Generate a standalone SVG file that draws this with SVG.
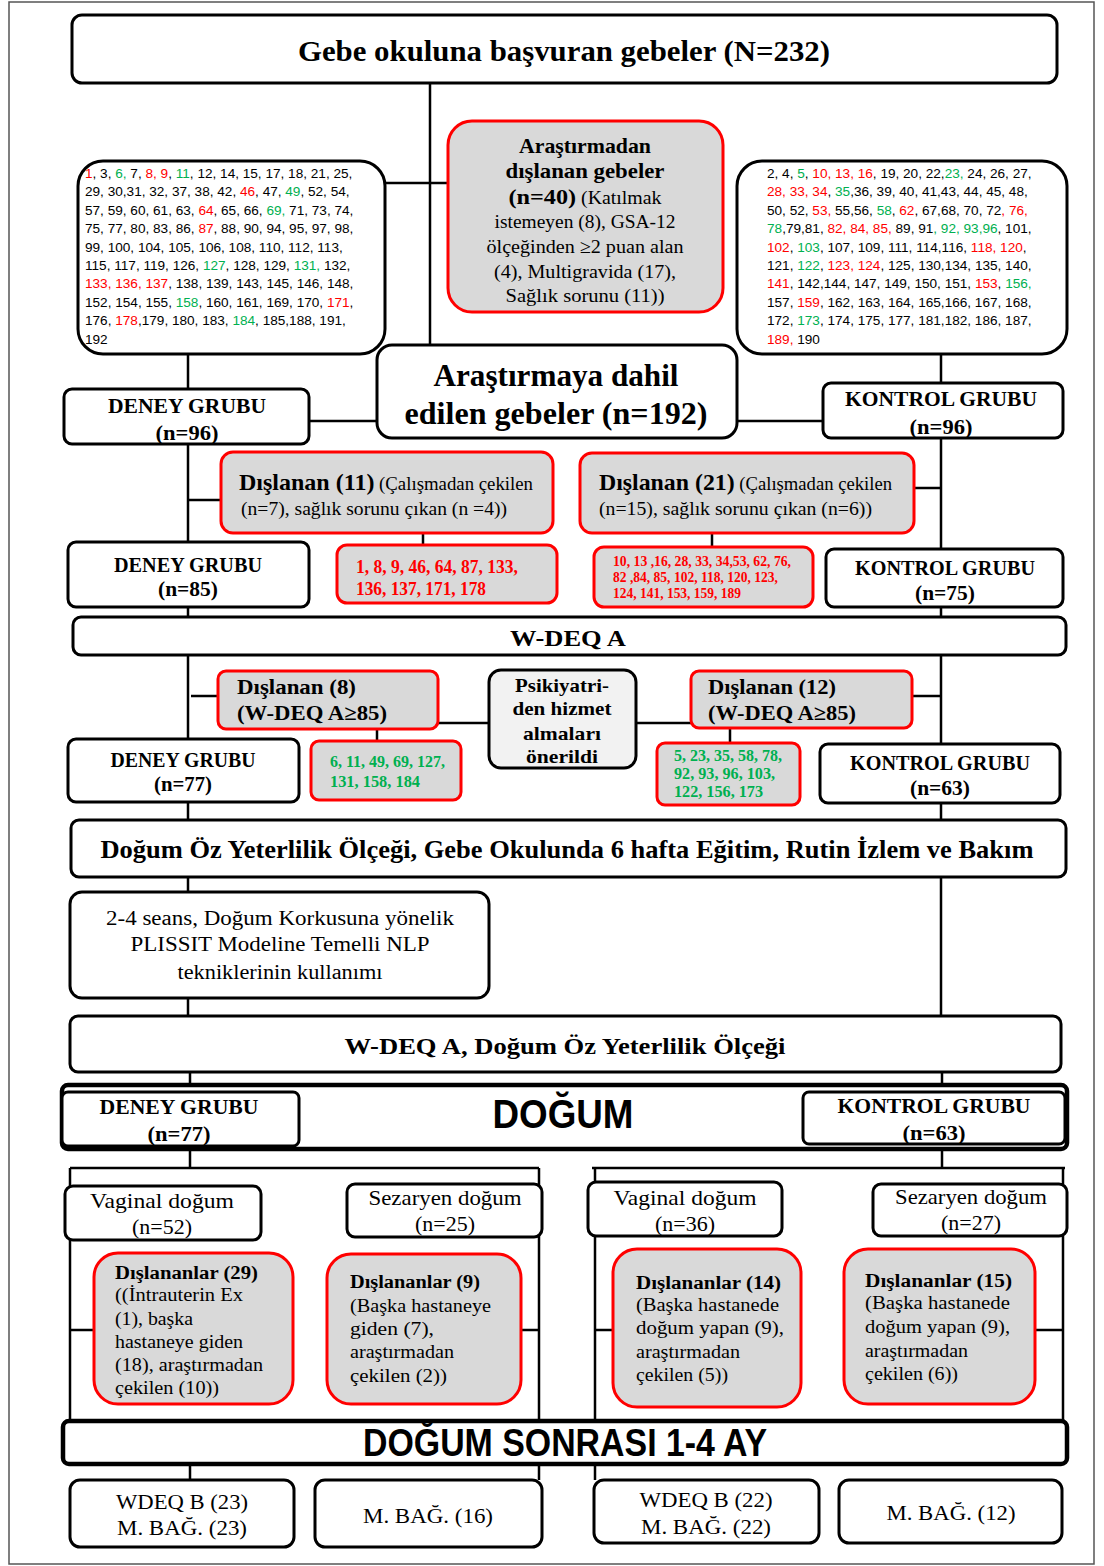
<svg xmlns="http://www.w3.org/2000/svg" width="1104" height="1566" viewBox="0 0 1104 1566">
<style>
.bx{fill:#fff;stroke:#000;stroke-width:3}
.bt{fill:#fff;stroke:#000;stroke-width:4.5}
.ex{fill:#d9d9d9;stroke:#ff0000;stroke-width:3}
.ps{fill:#f2f2f2;stroke:#000;stroke-width:3}
.ln{stroke:#000;stroke-width:2.5;fill:none}
text{fill:#000}
.sb{font-family:"Liberation Serif","Times New Roman",serif;font-weight:bold}
.sr{font-family:"Liberation Serif","Times New Roman",serif}
.ss{font-family:"Liberation Sans",Arial,sans-serif;font-weight:bold}
.num{font-family:"Liberation Sans",Arial,sans-serif;font-size:13.6px}
.rd{fill:#ff0000}
.gr{fill:#00b050}
.c{text-anchor:middle}
</style>
<rect x="0" y="0" width="1104" height="1566" fill="#fff"/>
<rect x="9" y="2" width="1085" height="1562" fill="none" stroke="#555" stroke-width="1.5"/>

<g id="connectors">
<path class="ln" d="M430 83V345 M385 183H448 M188 355V389 M941 355V383 M309 421H377 M737 421H823"/>
<path class="ln" d="M188 444V542 M941 438V549 M188 500H221 M914 488H941 M423 533V545 M712 533V547"/>
<path class="ln" d="M188 607V617 M941 607V617 M188 655V739 M941 655V744 M191 696H218 M912 696H941 M438 723H489 M636 723H691 M377 729V741 M730 728V743"/>
<path class="ln" d="M188 802V820 M941 803V820 M188 877V892 M941 877V1016 M188 998V1016 M190 1072V1085 M942 1072V1085"/>
<path class="ln" d="M190 1149V1168 M70 1168H539 M70 1168V1421 M539 1168V1421 M942 1149V1168 M592 1168H1065 M595 1168V1421 M1063 1168V1421"/>
<path class="ln" d="M70 1330H94 M521 1330H539 M595 1330H613 M1035 1330H1063"/>
<path class="ln" d="M190 1464V1480 M539 1464V1480 M595 1464V1480"/>
</g>

<g id="n-title">
<rect class="bx" x="72" y="15" width="985" height="68" rx="10"/>
<text class="sb c" x="564" y="61" font-size="30" textLength="532" lengthAdjust="spacingAndGlyphs">Gebe okuluna başvuran gebeler (N=232)</text>
</g>

<g id="n-left-list">
<rect class="bx" x="78" y="161" width="307" height="193" rx="25" stroke-width="4.5"/>
<text class="num" x="85" y="178"><tspan class="rd">1</tspan>, 3, <tspan class="gr">6,</tspan> 7, <tspan class="rd">8, 9</tspan>, <tspan class="gr">11</tspan>, 12, 14, 15, 17, 18, 21, 25,</text>
<text class="num" x="85" y="196.4">29, 30,31, 32, 37, 38, 42, <tspan class="rd">46</tspan>, 47, <tspan class="gr">49</tspan>, 52, 54,</text>
<text class="num" x="85" y="214.8">57, 59, 60, 61, 63, <tspan class="rd">64</tspan>, 65, 66, <tspan class="gr">69,</tspan> 71, 73, 74,</text>
<text class="num" x="85" y="233.2">75, 77, 80, 83, 86, <tspan class="rd">87</tspan>, 88, 90, 94, 95, 97, 98,</text>
<text class="num" x="85" y="251.6">99, 100, 104, 105, 106, 108, 110, 112, 113,</text>
<text class="num" x="85" y="270">115, 117, 119, 126, <tspan class="gr">127</tspan>, 128, 129, <tspan class="gr">131,</tspan> 132,</text>
<text class="num" x="85" y="288.4"><tspan class="rd">133, 136, 137</tspan>, 138, 139, 143, 145, 146, 148,</text>
<text class="num" x="85" y="306.8">152, 154, 155, <tspan class="gr">158</tspan>, 160, 161, 169, 170, <tspan class="rd">171</tspan>,</text>
<text class="num" x="85" y="325.2">176, <tspan class="rd">178</tspan>,179, 180, 183, <tspan class="gr">184</tspan>, 185,188, 191,</text>
<text class="num" x="85" y="343.6">192</text>
</g>

<g id="n-right-list">
<rect class="bx" x="737" y="161" width="330" height="193" rx="25" stroke-width="4.5"/>
<text class="num" x="767" y="178">2, 4, <tspan class="gr">5</tspan>, <tspan class="rd">10, 13, 16</tspan>, 19, 20, 22,<tspan class="gr">23,</tspan> 24, 26, 27,</text>
<text class="num" x="767" y="196.4"><tspan class="rd">28, 33, 34</tspan>, <tspan class="gr">35</tspan>,36, 39, 40, 41,43, 44, 45, 48,</text>
<text class="num" x="767" y="214.8">50, 52, <tspan class="rd">53,</tspan> 55,56, <tspan class="gr">58</tspan>, <tspan class="rd">62</tspan>, 67,68, 70, 72<tspan class="rd">, 76,</tspan></text>
<text class="num" x="767" y="233.2"><tspan class="gr">78</tspan>,79,81, <tspan class="rd">82, 84, 85,</tspan> 89, 91<tspan class="gr">, 92, 93,96</tspan>, 101,</text>
<text class="num" x="767" y="251.6"><tspan class="rd">102</tspan>, <tspan class="gr">103</tspan>, 107, 109, 111, 114,116, <tspan class="rd">118, 120</tspan>,</text>
<text class="num" x="767" y="270">121, <tspan class="gr">122</tspan>, <tspan class="rd">123, 124</tspan>, 125, 130,134, 135, 140,</text>
<text class="num" x="767" y="288.4"><tspan class="rd">141</tspan>, 142,144, 147, 149, 150, 151, <tspan class="rd">153</tspan>, <tspan class="gr">156,</tspan></text>
<text class="num" x="767" y="306.8">157, <tspan class="rd">159</tspan>, 162, 163, 164, 165,166, 167, 168,</text>
<text class="num" x="767" y="325.2">172, <tspan class="gr">173</tspan>, 174, 175, 177, 181,182, 186, 187,</text>
<text class="num" x="767" y="343.6"><tspan class="rd">189,</tspan> 190</text>
</g>

<g id="n-excluded-40">
<rect class="ex" x="448" y="121" width="275" height="191" rx="24"/>
<text class="sb c" x="585" y="153" font-size="22" textLength="132" lengthAdjust="spacingAndGlyphs">Araştırmadan</text>
<text class="sb c" x="585" y="178" font-size="22" textLength="159" lengthAdjust="spacingAndGlyphs">dışlanan  gebeler</text>
<text class="sr c" x="585" y="204" font-size="18" textLength="153" lengthAdjust="spacingAndGlyphs"><tspan class="sb" font-size="22">(n=40)</tspan> (Katılmak</text>
<text class="sr c" x="585" y="228" font-size="19" textLength="181" lengthAdjust="spacingAndGlyphs">istemeyen (8), GSA-12</text>
<text class="sr c" x="585" y="253" font-size="19" textLength="197" lengthAdjust="spacingAndGlyphs">ölçeğinden ≥2 puan alan</text>
<text class="sr c" x="585" y="278" font-size="19" textLength="182" lengthAdjust="spacingAndGlyphs">(4), Multigravida (17),</text>
<text class="sr c" x="585" y="302" font-size="19" textLength="159" lengthAdjust="spacingAndGlyphs">Sağlık  sorunu (11))</text>
</g>

<g id="n-included">
<rect class="bx" x="377" y="345" width="360" height="93" rx="15"/>
<text class="sb c" x="556" y="386" font-size="31" textLength="245" lengthAdjust="spacingAndGlyphs">Araştırmaya dahil</text>
<text class="sb c" x="556" y="424" font-size="31" textLength="303" lengthAdjust="spacingAndGlyphs">edilen gebeler  (n=192)</text>
</g>

<g id="n-deney-96">
<rect class="bx" x="64" y="389" width="245" height="55" rx="8"/>
<text class="sb c" x="187" y="413" font-size="22" textLength="158" lengthAdjust="spacingAndGlyphs">DENEY  GRUBU</text>
<text class="sb c" x="187" y="440" font-size="22" textLength="63" lengthAdjust="spacingAndGlyphs">(n=96)</text>
</g>

<g id="n-kontrol-96">
<rect class="bx" x="823" y="383" width="240" height="55" rx="8"/>
<text class="sb c" x="941" y="406" font-size="22" textLength="192" lengthAdjust="spacingAndGlyphs">KONTROL GRUBU</text>
<text class="sb c" x="941" y="434" font-size="22" textLength="63" lengthAdjust="spacingAndGlyphs">(n=96)</text>
</g>

<g id="n-excl-11">
<rect class="ex" x="221" y="452" width="332" height="81" rx="12"/>
<text class="sr" x="239" y="490" font-size="18" textLength="294" lengthAdjust="spacingAndGlyphs"><tspan class="sb" font-size="23">Dışlanan (11)</tspan> (Çalışmadan çekilen</text>
<text class="sr" x="241" y="515" font-size="18" textLength="266" lengthAdjust="spacingAndGlyphs">(n=7), sağlık sorunu çıkan (n =4))</text>
</g>

<g id="n-excl-21">
<rect class="ex" x="580" y="453" width="334" height="80" rx="12"/>
<text class="sr" x="599" y="490" font-size="18" textLength="293" lengthAdjust="spacingAndGlyphs"><tspan class="sb" font-size="23">Dışlanan (21)</tspan> (Çalışmadan çekilen</text>
<text class="sr" x="599" y="515" font-size="18" textLength="273" lengthAdjust="spacingAndGlyphs">(n=15), sağlık sorunu çıkan (n=6))</text>
</g>

<g id="n-deney-85">
<rect class="bx" x="68" y="542" width="241" height="65" rx="8"/>
<text class="sb c" x="188" y="572" font-size="21" textLength="148" lengthAdjust="spacingAndGlyphs">DENEY  GRUBU</text>
<text class="sb c" x="188" y="596" font-size="21" textLength="60" lengthAdjust="spacingAndGlyphs">(n=85)</text>
</g>

<g id="n-red-list-1">
<rect class="ex" x="337" y="545" width="220" height="58" rx="10"/>
<text class="sb rd" x="356" y="573" font-size="18" textLength="162" lengthAdjust="spacingAndGlyphs">1, 8, 9, 46, 64, 87, 133,</text>
<text class="sb rd" x="356" y="595" font-size="18" textLength="130" lengthAdjust="spacingAndGlyphs">136, 137, 171, 178</text>
</g>

<g id="n-red-list-2">
<rect class="ex" x="594" y="547" width="219" height="60" rx="10"/>
<text class="sb rd" x="613" y="566" font-size="15" textLength="178" lengthAdjust="spacingAndGlyphs">10, 13 ,16, 28, 33, 34,53, 62, 76,</text>
<text class="sb rd" x="613" y="582" font-size="15" textLength="165" lengthAdjust="spacingAndGlyphs">82 ,84, 85, 102, 118, 120, 123,</text>
<text class="sb rd" x="613" y="598" font-size="15" textLength="128" lengthAdjust="spacingAndGlyphs">124, 141, 153, 159, 189</text>
</g>

<g id="n-kontrol-75">
<rect class="bx" x="826" y="549" width="237" height="58" rx="8"/>
<text class="sb c" x="945" y="575" font-size="21" textLength="180" lengthAdjust="spacingAndGlyphs">KONTROL GRUBU</text>
<text class="sb c" x="945" y="600" font-size="21" textLength="60" lengthAdjust="spacingAndGlyphs">(n=75)</text>
</g>

<g id="n-wdeq-a">
<rect class="bx" x="73" y="617" width="993" height="38" rx="8"/>
<text class="sb c" x="568" y="646" font-size="24" textLength="116" lengthAdjust="spacingAndGlyphs">W-DEQ A</text>
</g>

<g id="n-excl-8">
<rect class="ex" x="218" y="671" width="220" height="58" rx="8"/>
<text class="sb" x="237" y="694" font-size="21" textLength="119" lengthAdjust="spacingAndGlyphs">Dışlanan (8)</text>
<text class="sb" x="237" y="720" font-size="21" textLength="150" lengthAdjust="spacingAndGlyphs">(W-DEQ A≥85)</text>
</g>

<g id="n-psikiyatri">
<rect class="ps" x="489" y="670" width="147" height="98" rx="12"/>
<text class="sb c" x="562" y="692" font-size="19" textLength="94" lengthAdjust="spacingAndGlyphs">Psikiyatri-</text>
<text class="sb c" x="562" y="715" font-size="19" textLength="99" lengthAdjust="spacingAndGlyphs">den hizmet</text>
<text class="sb c" x="562" y="740" font-size="19" textLength="78" lengthAdjust="spacingAndGlyphs">almaları</text>
<text class="sb c" x="562" y="763" font-size="19" textLength="72" lengthAdjust="spacingAndGlyphs">önerildi</text>
</g>

<g id="n-excl-12">
<rect class="ex" x="691" y="671" width="221" height="57" rx="8"/>
<text class="sb" x="708" y="694" font-size="21" textLength="128" lengthAdjust="spacingAndGlyphs">Dışlanan (12)</text>
<text class="sb" x="708" y="720" font-size="21" textLength="148" lengthAdjust="spacingAndGlyphs">(W-DEQ A≥85)</text>
</g>

<g id="n-deney-77">
<rect class="bx" x="68" y="739" width="231" height="63" rx="8"/>
<text class="sb c" x="183" y="767" font-size="21" textLength="145" lengthAdjust="spacingAndGlyphs">DENEY  GRUBU</text>
<text class="sb c" x="183" y="791" font-size="21" textLength="58" lengthAdjust="spacingAndGlyphs">(n=77)</text>
</g>

<g id="n-green-list-1">
<rect class="ex" x="311" y="741" width="150" height="59" rx="8"/>
<text class="sb gr" x="330" y="767" font-size="17" textLength="115" lengthAdjust="spacingAndGlyphs">6, 11, 49, 69, 127,</text>
<text class="sb gr" x="330" y="787" font-size="17" textLength="90" lengthAdjust="spacingAndGlyphs">131, 158, 184</text>
</g>

<g id="n-green-list-2">
<rect class="ex" x="657" y="743" width="143" height="62" rx="8"/>
<text class="sb gr" x="674" y="761" font-size="16" textLength="108" lengthAdjust="spacingAndGlyphs">5, 23, 35, 58, 78,</text>
<text class="sb gr" x="674" y="779" font-size="16" textLength="101" lengthAdjust="spacingAndGlyphs">92, 93, 96, 103,</text>
<text class="sb gr" x="674" y="797" font-size="16" textLength="89" lengthAdjust="spacingAndGlyphs">122, 156, 173</text>
</g>

<g id="n-kontrol-63">
<rect class="bx" x="820" y="744" width="240" height="59" rx="8"/>
<text class="sb c" x="940" y="770" font-size="21" textLength="180" lengthAdjust="spacingAndGlyphs">KONTROL GRUBU</text>
<text class="sb c" x="940" y="795" font-size="21" textLength="60" lengthAdjust="spacingAndGlyphs">(n=63)</text>
</g>

<g id="n-dogum-oz">
<rect class="bx" x="71" y="820" width="995" height="57" rx="8"/>
<text class="sb c" x="567" y="858" font-size="25" textLength="933" lengthAdjust="spacingAndGlyphs">Doğum Öz Yeterlilik Ölçeği, Gebe Okulunda 6 hafta  Eğitim, Rutin İzlem ve Bakım</text>
</g>

<g id="n-nlp">
<rect class="bx" x="70" y="892" width="419" height="106" rx="12"/>
<text class="sr c" x="280" y="925" font-size="20" textLength="348" lengthAdjust="spacingAndGlyphs">2-4  seans, Doğum Korkusuna yönelik</text>
<text class="sr c" x="280" y="951" font-size="20" textLength="299" lengthAdjust="spacingAndGlyphs">PLISSIT  Modeline Temelli  NLP</text>
<text class="sr c" x="280" y="979" font-size="20" textLength="205" lengthAdjust="spacingAndGlyphs">tekniklerinin kullanımı</text>
</g>

<g id="n-wdeq-a-oz">
<rect class="bx" x="70" y="1016" width="991" height="56" rx="8"/>
<text class="sb c" x="565" y="1054" font-size="24" textLength="441" lengthAdjust="spacingAndGlyphs">W-DEQ A, Doğum Öz Yeterlilik Ölçeği</text>
</g>

<g id="n-dogum">
<rect class="bt" x="62" y="1085" width="1005" height="64" rx="6"/>
<text class="ss c" x="563" y="1128" font-size="40" textLength="141" lengthAdjust="spacingAndGlyphs">DOĞUM</text>
</g>

<g id="n-deney-77b">
<rect class="bx" x="62" y="1092" width="237" height="54" rx="6"/>
<text class="sb c" x="179" y="1114" font-size="21" textLength="159" lengthAdjust="spacingAndGlyphs">DENEY  GRUBU</text>
<text class="sb c" x="179" y="1141" font-size="21" textLength="63" lengthAdjust="spacingAndGlyphs">(n=77)</text>
</g>

<g id="n-kontrol-63b">
<rect class="bx" x="803" y="1092" width="262" height="52" rx="6"/>
<text class="sb c" x="934" y="1113" font-size="21" textLength="193" lengthAdjust="spacingAndGlyphs">KONTROL GRUBU</text>
<text class="sb c" x="934" y="1140" font-size="21" textLength="63" lengthAdjust="spacingAndGlyphs">(n=63)</text>
</g>

<g id="n-vag-52">
<rect class="bx" x="65" y="1186" width="196" height="54" rx="8"/>
<text class="sr c" x="162" y="1208" font-size="21" textLength="144" lengthAdjust="spacingAndGlyphs">Vaginal  doğum</text>
<text class="sr c" x="162" y="1234" font-size="21" textLength="60" lengthAdjust="spacingAndGlyphs">(n=52)</text>
</g>

<g id="n-sez-25">
<rect class="bx" x="347" y="1184" width="195" height="53" rx="8"/>
<text class="sr c" x="445" y="1205" font-size="21" textLength="153" lengthAdjust="spacingAndGlyphs">Sezaryen doğum</text>
<text class="sr c" x="445" y="1231" font-size="21" textLength="60" lengthAdjust="spacingAndGlyphs">(n=25)</text>
</g>

<g id="n-vag-36">
<rect class="bx" x="588" y="1182" width="194" height="54" rx="8"/>
<text class="sr c" x="685" y="1205" font-size="21" textLength="143" lengthAdjust="spacingAndGlyphs">Vaginal  doğum</text>
<text class="sr c" x="685" y="1231" font-size="21" textLength="60" lengthAdjust="spacingAndGlyphs">(n=36)</text>
</g>

<g id="n-sez-27">
<rect class="bx" x="873" y="1184" width="194" height="52" rx="8"/>
<text class="sr c" x="971" y="1204" font-size="21" textLength="152" lengthAdjust="spacingAndGlyphs">Sezaryen doğum</text>
<text class="sr c" x="971" y="1230" font-size="21" textLength="60" lengthAdjust="spacingAndGlyphs">(n=27)</text>
</g>

<g id="n-excl-29">
<rect class="ex" x="94" y="1253" width="199" height="151" rx="24"/>
<text class="sb" x="115" y="1279" font-size="18" textLength="143" lengthAdjust="spacingAndGlyphs">Dışlananlar (29)</text>
<text class="sr" x="115" y="1301" font-size="18" textLength="128" lengthAdjust="spacingAndGlyphs">((İntrauterin Ex</text>
<text class="sr" x="115" y="1325" font-size="18" textLength="78" lengthAdjust="spacingAndGlyphs">(1), başka</text>
<text class="sr" x="115" y="1348" font-size="18" textLength="128" lengthAdjust="spacingAndGlyphs">hastaneye giden</text>
<text class="sr" x="115" y="1371" font-size="18" textLength="148" lengthAdjust="spacingAndGlyphs">(18), araştırmadan</text>
<text class="sr" x="115" y="1394" font-size="18" textLength="104" lengthAdjust="spacingAndGlyphs">çekilen (10))</text>
</g>

<g id="n-excl-9">
<rect class="ex" x="327" y="1254" width="194" height="150" rx="24"/>
<text class="sb" x="350" y="1288" font-size="18" textLength="130" lengthAdjust="spacingAndGlyphs">Dışlananlar (9)</text>
<text class="sr" x="350" y="1312" font-size="18" textLength="141" lengthAdjust="spacingAndGlyphs">(Başka hastaneye</text>
<text class="sr" x="350" y="1335" font-size="18" textLength="84" lengthAdjust="spacingAndGlyphs">giden  (7),</text>
<text class="sr" x="350" y="1358" font-size="18" textLength="104" lengthAdjust="spacingAndGlyphs">araştırmadan</text>
<text class="sr" x="350" y="1382" font-size="18" textLength="97" lengthAdjust="spacingAndGlyphs">çekilen (2))</text>
</g>

<g id="n-excl-14">
<rect class="ex" x="613" y="1249" width="188" height="158" rx="24"/>
<text class="sb" x="636" y="1289" font-size="18" textLength="145" lengthAdjust="spacingAndGlyphs">Dışlananlar  (14)</text>
<text class="sr" x="636" y="1311" font-size="18" textLength="143" lengthAdjust="spacingAndGlyphs">(Başka  hastanede</text>
<text class="sr" x="636" y="1334" font-size="18" textLength="148" lengthAdjust="spacingAndGlyphs">doğum  yapan  (9),</text>
<text class="sr" x="636" y="1358" font-size="18" textLength="104" lengthAdjust="spacingAndGlyphs">araştırmadan</text>
<text class="sr" x="636" y="1381" font-size="18" textLength="92" lengthAdjust="spacingAndGlyphs">çekilen (5))</text>
</g>

<g id="n-excl-15">
<rect class="ex" x="844" y="1249" width="191" height="155" rx="24"/>
<text class="sb" x="865" y="1287" font-size="18" textLength="147" lengthAdjust="spacingAndGlyphs">Dışlananlar  (15)</text>
<text class="sr" x="865" y="1309" font-size="18" textLength="145" lengthAdjust="spacingAndGlyphs">(Başka  hastanede</text>
<text class="sr" x="865" y="1333" font-size="18" textLength="145" lengthAdjust="spacingAndGlyphs">doğum  yapan  (9),</text>
<text class="sr" x="865" y="1357" font-size="18" textLength="103" lengthAdjust="spacingAndGlyphs">araştırmadan</text>
<text class="sr" x="865" y="1380" font-size="18" textLength="93" lengthAdjust="spacingAndGlyphs">çekilen (6))</text>
</g>

<g id="n-dogum-sonrasi">
<rect class="bt" x="63" y="1421" width="1004" height="43" rx="6"/>
<text class="ss c" x="565" y="1456" font-size="38" textLength="404" lengthAdjust="spacingAndGlyphs">DOĞUM SONRASI 1-4 AY</text>
</g>

<g id="n-out-1">
<rect class="bx" x="70" y="1480" width="224" height="67" rx="10"/>
<text class="sr c" x="182" y="1509" font-size="21" textLength="132" lengthAdjust="spacingAndGlyphs">WDEQ B (23)</text>
<text class="sr c" x="182" y="1535" font-size="21" textLength="130" lengthAdjust="spacingAndGlyphs">M. BAĞ.  (23)</text>
</g>

<g id="n-out-2">
<rect class="bx" x="315" y="1480" width="227" height="67" rx="10"/>
<text class="sr c" x="428" y="1523" font-size="21" textLength="130" lengthAdjust="spacingAndGlyphs">M. BAĞ.  (16)</text>
</g>

<g id="n-out-3">
<rect class="bx" x="594" y="1480" width="225" height="63" rx="10"/>
<text class="sr c" x="706" y="1507" font-size="21" textLength="133" lengthAdjust="spacingAndGlyphs">WDEQ B (22)</text>
<text class="sr c" x="706" y="1534" font-size="21" textLength="130" lengthAdjust="spacingAndGlyphs">M. BAĞ.  (22)</text>
</g>

<g id="n-out-4">
<rect class="bx" x="839" y="1480" width="223" height="63" rx="10"/>
<text class="sr c" x="951" y="1520" font-size="21" textLength="129" lengthAdjust="spacingAndGlyphs">M. BAĞ.  (12)</text>
</g>
</svg>
